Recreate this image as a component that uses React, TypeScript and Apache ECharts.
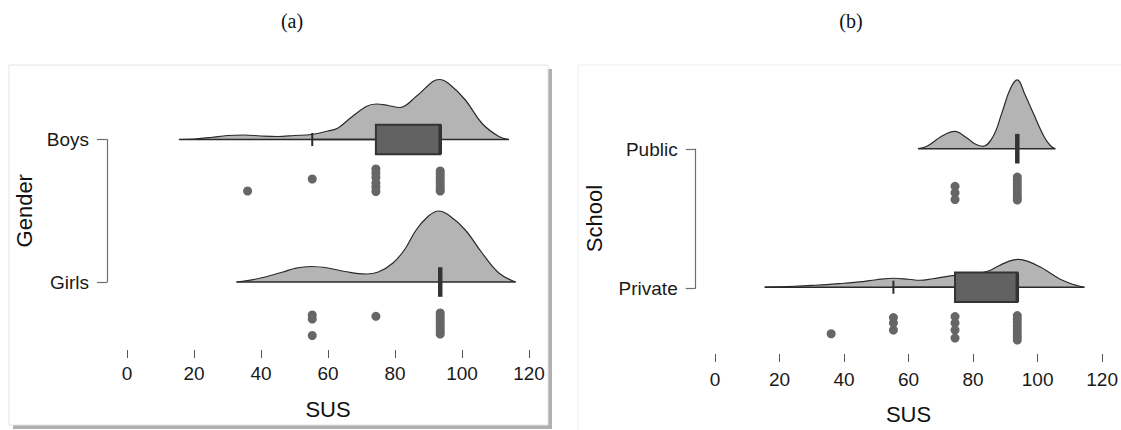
import React, { useEffect, useRef } from "react";
import * as echarts from "echarts";

// ---------- data ----------
const SUS_MIN = 0;
const SUS_MAX = 120;
const SUS_STEP = 20;

const genderGroups = ["Girls", "Boys"];
const schoolGroups = ["Private", "Public"];

// density outlines: [SUS, relative density height]
const boysDensity = [
  [15.5, 0], [20, 0.5], [25, 2], [30, 4], [35, 4.5], [40, 3.5], [45, 3], [50, 4],
  [55, 5], [60, 8.5], [63, 11.5], [66.5, 21], [71.4, 33], [74.4, 35.5], [78, 34],
  [81.4, 32], [86.3, 43], [91.3, 58], [93.3, 60], [96, 56], [101, 39.5], [106, 16],
  [111, 3], [114, 0],
];
const girlsDensity = [
  [32.7, 0], [38.6, 3], [46.6, 10], [50, 13.5], [55, 15.5], [60, 14], [65, 10.5],
  [71.4, 8], [75, 10], [79.4, 19], [83, 33], [86.3, 52], [90, 66], [93, 71], [96, 67],
  [101, 52], [106, 29], [111, 9], [116, 0],
];
const publicDensity = [
  [63, 0], [66, 3], [70, 12], [74.3, 17.3], [78, 11], [80.5, 5], [83, 2.3], [86.2, 12.3],
  [88.9, 35.7], [91.5, 60], [93.7, 69], [96, 55], [98.6, 36], [102, 12], [104, 3], [105.5, 0],
];
const privateDensity = [
  [15.4, 0], [20, 0.4], [24.5, 1], [30, 1.8], [34.6, 2.6], [40, 4], [44.7, 5.3], [50, 7.5],
  [55.4, 9], [60, 8], [63.5, 7], [67.5, 8.5], [71.6, 10.7], [75, 12], [80, 13.5], [84.5, 16],
  [88, 21.5], [91, 26], [94, 28], [97, 26], [101, 20], [104, 14], [107, 8], [110, 4],
  [112, 2], [114.5, 0],
];

// box stats: [lower whisker, Q1, median, Q3, upper whisker]
const boysBox = [55.3, 74.3, 93.5, 93.5, 93.5];
const girlsBox = [93.5, 93.5, 93.5, 93.5, 93.5];
const publicBox = [93.7, 93.7, 93.7, 93.7, 93.7];
const privateBox = [55.3, 74.4, 93.7, 93.7, 93.7];

// raw points: [SUS, vertical jitter below the baseline]
const boysPoints = [
  [36, 51.5], [55.3, 39.5],
  [74.3, 29.5], [74.3, 33.5], [74.3, 38], [74.3, 43.5], [74.3, 47.5], [74.3, 52],
  [93.5, 31.5], [93.5, 34.5], [93.5, 37.5], [93.5, 40.5], [93.5, 43.5], [93.5, 46.5], [93.5, 49.5], [93.5, 51.5],
];
const girlsPoints = [
  [55.3, 33], [55.3, 37], [55.3, 53.5], [74.3, 34.3],
  [93.5, 31], [93.5, 34], [93.5, 37], [93.5, 40], [93.5, 43], [93.5, 46], [93.5, 49], [93.5, 52],
];
const publicPoints = [
  [74.4, 37.7], [74.4, 44.3], [74.4, 51],
  [93.7, 28.5], [93.7, 32], [93.7, 35.5], [93.7, 39], [93.7, 42.5], [93.7, 46], [93.7, 49], [93.7, 51.5],
];
const privatePoints = [
  [36, 46.7], [55.3, 30.5], [55.3, 36], [55.3, 43],
  [74.4, 29.5], [74.4, 36], [74.4, 43], [74.4, 51],
  [93.7, 28.5], [93.7, 32], [93.7, 35.5], [93.7, 39], [93.7, 42.5], [93.7, 46], [93.7, 49.5], [93.7, 53],
];

// ---------- layout / style ----------
const FONT = "'Liberation Sans', Arial, Helvetica, sans-serif";
const DENS_FILL = "#b4b4b4";
const DARK = "#2a2a2a";
const POINT = "#666666";
const BOX_FILL = "#626262";

type Group = {
  base: number;
  density: number[][];
  box: number[];
  points: number[][];
};

function panelSeries(axisIndex: number, groups: Group[]) {
  const s: any[] = [];
  groups.forEach((g) => {
    s.push({
      type: "line",
      xAxisIndex: axisIndex,
      yAxisIndex: axisIndex,
      data: g.density.map(([v, h]) => [v, g.base - h]),
      smooth: 0.4,
      symbol: "none",
      lineStyle: { color: DARK, width: 1.2 },
      areaStyle: { color: DENS_FILL, opacity: 1, origin: g.base },
      z: 2,
      silent: true,
    });
    const first = g.density[0][0];
    const last = g.density[g.density.length - 1][0];
    s.push({
      type: "line",
      xAxisIndex: axisIndex,
      yAxisIndex: axisIndex,
      data: [
        [first, g.base],
        [last, g.base],
      ],
      symbol: "none",
      lineStyle: { color: DARK, width: 1.4 },
      z: 3,
      silent: true,
    });
    s.push({
      type: "custom",
      xAxisIndex: axisIndex,
      yAxisIndex: axisIndex,
      data: [[g.base, ...g.box]],
      encode: { x: [1, 2, 3, 4, 5], y: 0 },
      z: 4,
      silent: true,
      renderItem: (_p: any, api: any) => {
        const base = api.value(0);
        const lo = api.value(1);
        const q1 = api.value(2);
        const med = api.value(3);
        const q3 = api.value(4);
        const hi = api.value(5);
        const pLo = api.coord([lo, base]);
        const pQ1 = api.coord([q1, base]);
        const pMed = api.coord([med, base]);
        const pQ3 = api.coord([q3, base]);
        const pHi = api.coord([hi, base]);
        const y = pQ1[1];
        const hh = 14.8;
        const children: any[] = [];
        if (lo < q1) {
          children.push({
            type: "line",
            shape: { x1: pLo[0], y1: y, x2: pQ1[0], y2: y },
            style: { stroke: DARK, lineWidth: 1.5 },
          });
          children.push({
            type: "line",
            shape: { x1: pLo[0], y1: y - 6.5, x2: pLo[0], y2: y + 6.5 },
            style: { stroke: DARK, lineWidth: 2 },
          });
        }
        if (hi > q3) {
          children.push({
            type: "line",
            shape: { x1: pQ3[0], y1: y, x2: pHi[0], y2: y },
            style: { stroke: DARK, lineWidth: 1.5 },
          });
          children.push({
            type: "line",
            shape: { x1: pHi[0], y1: y - 6.5, x2: pHi[0], y2: y + 6.5 },
            style: { stroke: DARK, lineWidth: 2 },
          });
        }
        if (q1 < q3) {
          children.push({
            type: "rect",
            shape: { x: pQ1[0], y: y - hh, width: pQ3[0] - pQ1[0], height: 2 * hh },
            style: { fill: BOX_FILL, stroke: "#333333", lineWidth: 2 },
          });
        }
        children.push({
          type: "line",
          shape: { x1: pMed[0], y1: y - hh, x2: pMed[0], y2: y + hh },
          style: { stroke: "#333333", lineWidth: q1 < q3 ? 3.5 : 4.5 },
        });
        return { type: "group", children };
      },
    });
    s.push({
      type: "scatter",
      xAxisIndex: axisIndex,
      yAxisIndex: axisIndex,
      data: g.points.map(([v, j]) => [v, g.base + j]),
      symbolSize: 9,
      itemStyle: { color: POINT, opacity: 1 },
      z: 5,
      silent: true,
    });
  });
  return s;
}

function susAxis(gridIndex: number, margin: number, nameGap: number) {
  return {
    type: "value",
    gridIndex,
    min: SUS_MIN,
    max: SUS_MAX,
    interval: SUS_STEP,
    offset: 4,
    axisLine: { show: false },
    axisTick: { show: true, length: 8, lineStyle: { color: "#555", width: 1 } },
    axisLabel: { fontSize: 19, color: "#1a1a1a", fontFamily: FONT, margin, showMaxLabel: true, showMinLabel: true },
    splitLine: { show: false },
    name: "SUS",
    nameLocation: "middle",
    nameGap,
    nameTextStyle: { fontSize: 22, color: "#111", fontFamily: FONT },
  };
}

function groupAxis(gridIndex: number, cats: string[], name: string, nameGap: number) {
  return {
    type: "category",
    gridIndex,
    data: cats,
    boundaryGap: false,
    axisLine: { show: true, lineStyle: { color: "#707070", width: 1.2 } },
    axisTick: { show: true, length: 10, lineStyle: { color: "#707070", width: 1.2 } },
    axisLabel: { fontSize: 19, color: "#1a1a1a", fontFamily: FONT, margin: 18 },
    splitLine: { show: false },
    name,
    nameLocation: "middle",
    nameGap,
    nameTextStyle: { fontSize: 22, color: "#111", fontFamily: FONT },
  };
}

export default function App() {
  const ref = useRef<HTMLDivElement>(null);
  useEffect(() => {
    if (!ref.current) return;
    const chart = echarts.init(ref.current, null, { renderer: "svg" });

    // layout constants (pixels)
    const L = { x0: 127, x1: 529, top: 67, bottom: 346, girls: 282, boys: 139.5 };
    const R = { x0: 715, x1: 1109, top: 67, bottom: 351, priv: 288, pub: 149 };

    const option: any = {
      animation: false,
      backgroundColor: "#ffffff",
      graphic: [
        { type: "rect", z: -2, silent: true, shape: { x: 13, y: 69, width: 539, height: 360 }, style: { fill: "#b0b0b0" } },
        { type: "rect", z: -1, silent: true, shape: { x: 9, y: 65, width: 539, height: 360 }, style: { fill: "#ffffff", stroke: "#e4e4e4", lineWidth: 1 } },
        { type: "rect", z: -1, silent: true, shape: { x: 578, y: 65, width: 560, height: 380 }, style: { fill: "#ffffff", stroke: "#eeeeee", lineWidth: 1 } },
        { type: "text", silent: true, x: 292, y: 21, style: { text: "(a)", font: "20px 'Liberation Serif', 'Times New Roman', serif", fill: "#111", textAlign: "center", textVerticalAlign: "middle" } },
        { type: "text", silent: true, x: 851, y: 21, style: { text: "(b)", font: "20px 'Liberation Serif', 'Times New Roman', serif", fill: "#111", textAlign: "center", textVerticalAlign: "middle" } },
      ],
      grid: [
        { left: L.x0, width: L.x1 - L.x0, top: L.top, height: L.bottom - L.top },
        { left: 107, width: 2, top: L.boys, height: L.girls - L.boys },
        { left: R.x0, width: R.x1 - R.x0, top: R.top, height: R.bottom - R.top },
        { left: 695.7, width: 2, top: R.pub, height: R.priv - R.pub },
      ],
      xAxis: [
        susAxis(0, 14, 48),
        { type: "value", gridIndex: 1, show: false },
        susAxis(2, 15.5, 49),
        { type: "value", gridIndex: 3, show: false },
      ],
      yAxis: [
        { type: "value", gridIndex: 0, inverse: true, min: L.top, max: L.bottom, show: false },
        groupAxis(1, genderGroups, "Gender", 72),
        { type: "value", gridIndex: 2, inverse: true, min: R.top, max: R.bottom, show: false },
        groupAxis(3, schoolGroups, "School", 90),
      ],
      series: [
        ...panelSeries(0, [
          { base: L.boys, density: boysDensity, box: boysBox, points: boysPoints },
          { base: L.girls, density: girlsDensity, box: girlsBox, points: girlsPoints },
        ]),
        ...panelSeries(2, [
          { base: R.pub, density: publicDensity, box: publicBox, points: publicPoints },
          { base: R.priv, density: privateDensity, box: privateBox, points: privatePoints },
        ]),
      ],
    };
    chart.setOption(option);
    return () => chart.dispose();
  }, []);
  return (
    <div
      ref={ref}
      style={{ position: "absolute", left: 0, top: 0, width: 1121, height: 430 }}
    />
  );
}
